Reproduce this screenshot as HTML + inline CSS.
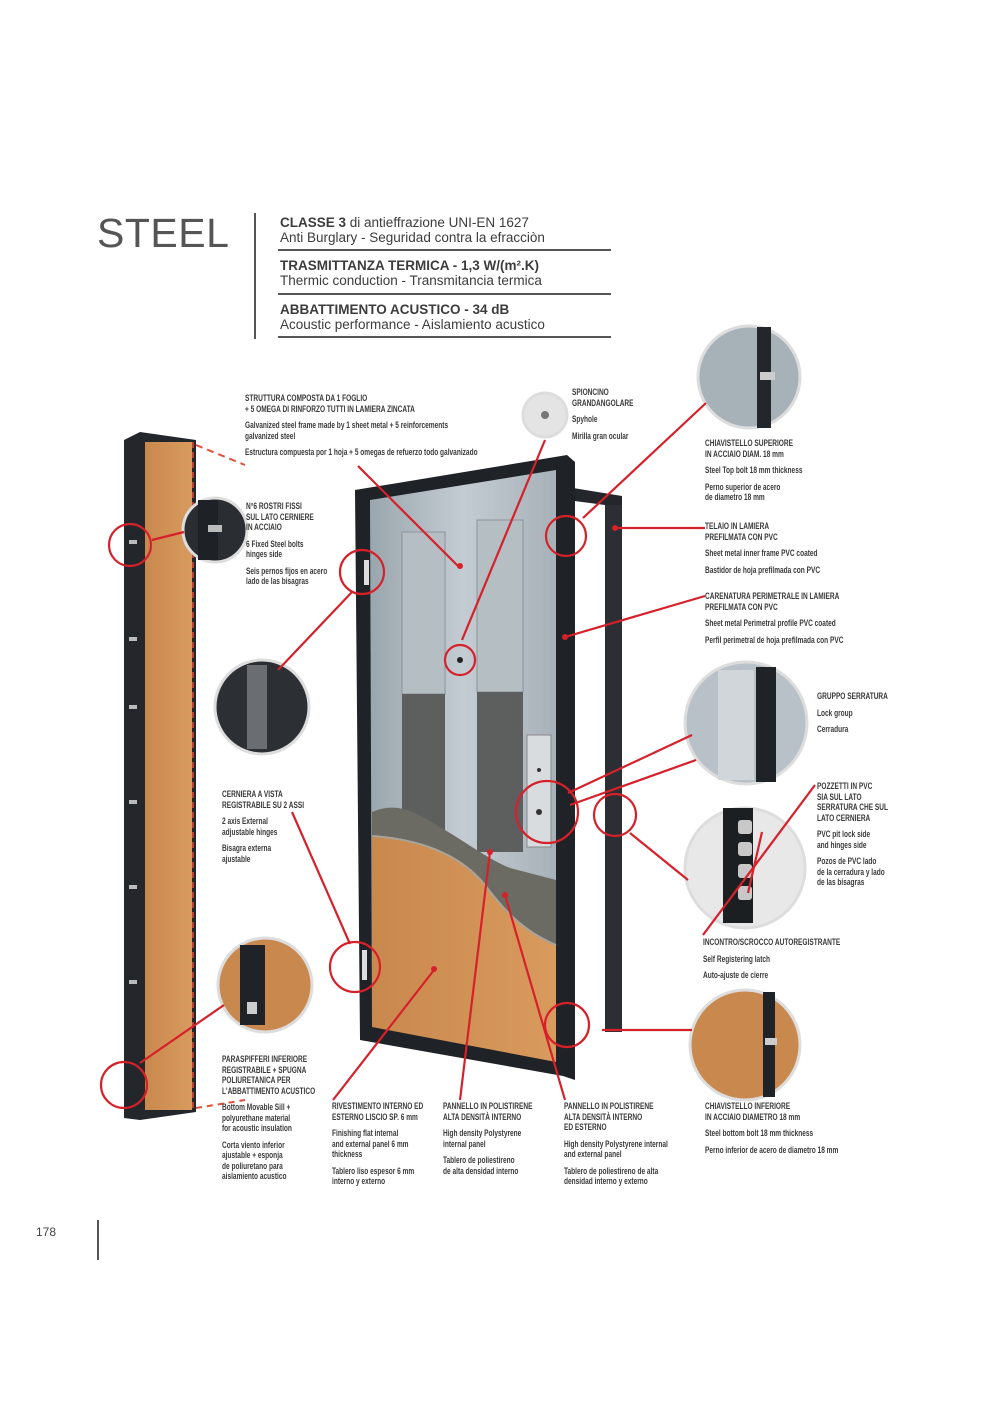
<!DOCTYPE html>
<html><head><meta charset="utf-8">
<style>
html,body{margin:0;padding:0;background:#fff;}
#p{position:relative;width:984px;height:1404px;overflow:hidden;background:#fff;font-family:"Liberation Sans",sans-serif;}
.t{position:absolute;font-family:"Liberation Sans Narrow","Liberation Sans",sans-serif;font-weight:bold;font-size:9.5px;line-height:10.5px;color:#3a3a3a;transform:scaleX(.69);transform-origin:0 0;white-space:nowrap;}
.t p{margin:0 0 6px 0;}
.h{position:absolute;left:280px;font-size:13.5px;line-height:15px;color:#3c3c3c;white-space:nowrap;}
.rule{position:absolute;left:278px;width:333px;height:2px;background:#555;}
</style></head><body><div id="p">
<div style="position:absolute;left:97px;top:210px;font-size:41px;color:#555;letter-spacing:0.5px;">STEEL</div>
<div style="position:absolute;left:254px;top:213px;width:2px;height:126px;background:#555;"></div>
<div class="h" style="top:215px"><b>CLASSE 3</b> di antieffrazione UNI-EN 1627<br>Anti Burglary - Seguridad contra la efracciòn</div>
<div class="rule" style="top:249px"></div>
<div class="h" style="top:258px"><b>TRASMITTANZA TERMICA - 1,3 W/(m².K)</b><br>Thermic conduction - Transmitancia termica</div>
<div class="rule" style="top:293px"></div>
<div class="h" style="top:302px"><b>ABBATTIMENTO ACUSTICO - 34 dB</b><br>Acoustic performance - Aislamiento acustico</div>
<div class="rule" style="top:336px"></div>

<svg style="position:absolute;left:0;top:0" width="984" height="1404" viewBox="0 0 984 1404">
<defs>
<linearGradient id="g" x1="0" x2="1"><stop offset="0" stop-color="#9aa6ad"/><stop offset=".5" stop-color="#c3ccd2"/><stop offset="1" stop-color="#a7b1b8"/></linearGradient>
<linearGradient id="o" x1="0" x2="1"><stop offset="0" stop-color="#c9894e"/><stop offset="1" stop-color="#d99a5e"/></linearGradient>
</defs>
<polygon points="124,440 140,432 196,440 196,1112 140,1120 124,1118" fill="#23272b"/>
<rect x="145" y="442" width="47" height="668" fill="url(#o)"/>
<line x1="193" y1="442" x2="193" y2="1112" stroke="#e0503a" stroke-width="1.5" stroke-dasharray="6,4"/>
<line x1="196" y1="445" x2="245" y2="465" stroke="#e0503a" stroke-width="2" stroke-dasharray="7,5"/>
<line x1="196" y1="1108" x2="245" y2="1100" stroke="#e0503a" stroke-width="2" stroke-dasharray="6,5"/>
<g fill="#bbb"><rect x="129" y="540" width="8" height="4"/><rect x="129" y="637" width="8" height="4"/><rect x="129" y="705" width="8" height="4"/><rect x="129" y="800" width="8" height="4"/><rect x="129" y="885" width="8" height="4"/><rect x="129" y="980" width="8" height="4"/></g>

<polygon points="567,487 622,496 622,1032 605,1032 605,505 567,500" fill="#23272b"/>
<rect x="605" y="505" width="17" height="527" fill="#2b2f33"/>
<polygon points="355,490 567,455 575,462 575,1080 563,1076 360,1040" fill="#1f2226"/>
<polygon points="370,500 556,470 556,1060 372,1025" fill="url(#g)"/>
<rect x="402" y="532" width="43" height="162" fill="#b5bec3" stroke="#8a949a"/>
<rect x="477" y="520" width="46" height="172" fill="#b5bec3" stroke="#8a949a"/>
<rect x="402" y="694" width="43" height="150" fill="#5d5f5e"/>
<rect x="477" y="692" width="46" height="160" fill="#5d5f5e"/>
<path d="M372,812 C400,800 420,815 445,830 C470,845 490,860 510,868 L556,880 L556,945 C520,930 500,905 485,885 C465,860 430,840 372,836 Z" fill="#6b6a63"/>
<path d="M372,836 C430,840 465,860 485,885 C500,905 520,930 556,945 L556,1062 L372,1027 Z" fill="url(#o)"/>
<path d="M372,836 C430,840 465,860 485,885 C500,905 520,930 556,945" fill="none" stroke="#a9a49a" stroke-width="2"/>
<rect x="527" y="735" width="24" height="112" fill="#d9dcdf" stroke="#888"/>
<circle cx="539" cy="812" r="3" fill="#333"/><circle cx="539" cy="770" r="2" fill="#333"/>
<circle cx="460" cy="660" r="3" fill="#222"/>
<rect x="364" y="560" width="5" height="25" fill="#ddd"/>
<rect x="362" y="950" width="5" height="30" fill="#ddd"/>

<g stroke="#ddd" stroke-width="3">
<circle cx="215" cy="530" r="32" fill="#2a2d31"/>
<circle cx="262" cy="707" r="47" fill="#2c3034"/>
<circle cx="265" cy="985" r="47" fill="#c9894e"/>
<circle cx="545" cy="415" r="22" fill="#e4e4e4"/>
<circle cx="749" cy="377" r="51" fill="#a7b1b8"/>
<circle cx="746" cy="723" r="61" fill="#b8c1c7"/>
<circle cx="745" cy="868" r="60" fill="#e8e8e8"/>
<circle cx="745" cy="1045" r="55" fill="#c9894e"/>
</g>
<rect x="198" y="500" width="20" height="60" fill="#1e2125"/>
<rect x="208" y="525" width="14" height="7" fill="#bbb"/>
<rect x="247" y="665" width="20" height="84" fill="#6a6e72"/>
<rect x="240" y="945" width="25" height="80" fill="#1f2226"/>
<rect x="247" y="1002" width="10" height="12" fill="#ccc"/>
<rect x="757" y="327" width="14" height="101" fill="#23272b"/>
<rect x="760" y="372" width="15" height="8" fill="#ccc"/>
<rect x="756" y="667" width="20" height="115" fill="#1f2226"/>
<rect x="718" y="670" width="36" height="110" fill="#d0d6da"/>
<rect x="723" y="808" width="30" height="115" fill="#1c1f22"/>
<g fill="#c8c8c8"><rect x="738" y="820" width="14" height="14" rx="3"/><rect x="738" y="842" width="14" height="14" rx="3"/><rect x="738" y="864" width="14" height="14" rx="3"/><rect x="738" y="886" width="14" height="14" rx="3"/></g>
<rect x="763" y="992" width="12" height="105" fill="#1f2226"/>
<rect x="765" y="1038" width="12" height="7" fill="#ccc"/>
<circle cx="545" cy="415" r="4" fill="#777"/>

<g stroke="#d6202a" stroke-width="2.2" fill="none">
<line x1="152" y1="540" x2="184" y2="532"/>
<line x1="352" y1="592" x2="278" y2="670"/>
<line x1="460" y1="568" x2="358" y2="466"/>
<line x1="545" y1="440" x2="462" y2="640"/>
<line x1="583" y1="518" x2="706" y2="403"/>
<line x1="615" y1="528" x2="705" y2="528"/>
<line x1="565" y1="637" x2="705" y2="596"/>
<line x1="568" y1="793" x2="692" y2="735"/>
<line x1="570" y1="805" x2="696" y2="760"/>
<line x1="630" y1="833" x2="688" y2="880"/>
<line x1="602" y1="1030" x2="692" y2="1030"/>
<line x1="703" y1="935" x2="815" y2="785"/>
<line x1="748" y1="893" x2="762" y2="832"/>
<line x1="140" y1="1063" x2="224" y2="1005"/>
<line x1="292" y1="812" x2="350" y2="944"/>
<line x1="333" y1="1100" x2="434" y2="970"/>
<line x1="460" y1="1100" x2="490" y2="852"/>
<line x1="565" y1="1100" x2="505" y2="895"/>
<circle cx="130" cy="545" r="21"/>
<circle cx="362" cy="572" r="22"/>
<circle cx="566" cy="536" r="20"/>
<circle cx="460" cy="660" r="15"/>
<circle cx="547" cy="812" r="31"/>
<circle cx="615" cy="815" r="21"/>
<circle cx="355" cy="967" r="25"/>
<circle cx="567" cy="1025" r="22"/>
<circle cx="124" cy="1085" r="23"/>
</g>
<g fill="#d6202a"><circle cx="460" cy="566" r="3"/><circle cx="615" cy="528" r="3"/><circle cx="565" cy="637" r="3"/><circle cx="434" cy="969" r="3"/><circle cx="490" cy="852" r="3"/><circle cx="505" cy="895" r="3"/></g>
</svg>

<div class="t" style="left:245px;top:394px"><p>STRUTTURA COMPOSTA DA 1 FOGLIO<br>+ 5 OMEGA DI RINFORZO TUTTI IN LAMIERA ZINCATA</p><p>Galvanized steel frame made by 1 sheet metal + 5 reinforcements<br>galvanized steel</p><p>Estructura compuesta por 1 hoja + 5 omegas de refuerzo todo galvanizado</p></div>
<div class="t" style="left:572px;top:388px"><p>SPIONCINO<br>GRANDANGOLARE</p><p>Spyhole</p><p>Mirilla gran ocular</p></div>
<div class="t" style="left:246px;top:502px"><p>N°6 ROSTRI FISSI<br>SUL LATO CERNIERE<br>IN ACCIAIO</p><p>6 Fixed Steel bolts<br>hinges side</p><p>Seis pernos fijos en acero<br>lado de las bisagras</p></div>
<div class="t" style="left:705px;top:439px"><p>CHIAVISTELLO SUPERIORE<br>IN ACCIAIO DIAM. 18 mm</p><p>Steel Top bolt 18 mm thickness</p><p>Perno superior de acero<br>de diametro 18 mm</p></div>
<div class="t" style="left:705px;top:522px"><p>TELAIO IN LAMIERA<br>PREFILMATA CON PVC</p><p>Sheet metal inner frame PVC coated</p><p>Bastidor de hoja prefilmada con PVC</p></div>
<div class="t" style="left:705px;top:592px"><p>CARENATURA PERIMETRALE IN LAMIERA<br>PREFILMATA CON PVC</p><p>Sheet metal Perimetral profile PVC coated</p><p>Perfil perimetral de hoja prefilmada con PVC</p></div>
<div class="t" style="left:817px;top:692px"><p>GRUPPO SERRATURA</p><p>Lock group</p><p>Cerradura</p></div>
<div class="t" style="left:817px;top:782px"><p>POZZETTI IN PVC<br>SIA SUL LATO<br>SERRATURA CHE SUL<br>LATO CERNIERA</p><p>PVC pit lock side<br>and hinges side</p><p>Pozos de PVC lado<br>de la cerradura y lado<br>de las bisagras</p></div>
<div class="t" style="left:222px;top:790px"><p>CERNIERA A VISTA<br>REGISTRABILE SU 2 ASSI</p><p>2 axis External<br>adjustable hinges</p><p>Bisagra externa<br>ajustable</p></div>
<div class="t" style="left:703px;top:938px"><p>INCONTRO/SCROCCO AUTOREGISTRANTE</p><p>Self Registering latch</p><p>Auto-ajuste de cierre</p></div>
<div class="t" style="left:222px;top:1055px"><p>PARASPIFFERI INFERIORE<br>REGISTRABILE + SPUGNA<br>POLIURETANICA PER<br>L'ABBATTIMENTO ACUSTICO</p><p>Bottom Movable Sill +<br>polyurethane material<br>for acoustic insulation</p><p>Corta viento inferior<br>ajustable + esponja<br>de poliuretano para<br>aislamiento acustico</p></div>
<div class="t" style="left:332px;top:1102px"><p>RIVESTIMENTO INTERNO ED<br>ESTERNO LISCIO SP. 6 mm</p><p>Finishing flat internal<br>and external panel 6 mm<br>thickness</p><p>Tablero liso espesor 6 mm<br>interno y externo</p></div>
<div class="t" style="left:443px;top:1102px"><p>PANNELLO IN POLISTIRENE<br>ALTA DENSITÀ INTERNO</p><p>High density Polystyrene<br>internal panel</p><p>Tablero de poliestireno<br>de alta densidad interno</p></div>
<div class="t" style="left:564px;top:1102px"><p>PANNELLO IN POLISTIRENE<br>ALTA DENSITÀ INTERNO<br>ED ESTERNO</p><p>High density Polystyrene internal<br>and external panel</p><p>Tablero de poliestireno de alta<br>densidad interno y externo</p></div>
<div class="t" style="left:705px;top:1102px"><p>CHIAVISTELLO INFERIORE<br>IN ACCIAIO DIAMETRO 18 mm</p><p>Steel bottom bolt 18 mm thickness</p><p>Perno inferior de acero de diametro 18 mm</p></div>

<div style="position:absolute;left:36px;top:1225px;font-size:12px;color:#444;">178</div>
<div style="position:absolute;left:97px;top:1220px;width:1.5px;height:40px;background:#555;"></div>
</div></body></html>
